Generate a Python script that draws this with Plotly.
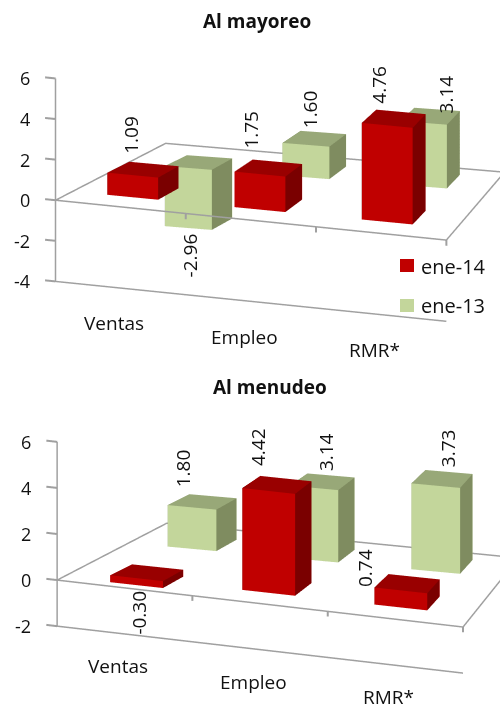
import plotly.graph_objects as go

categories = ["Ventas", "Empleo", "RMR*"]
series_names = ["ene-14", "ene-13"]
mayoreo_ene14 = [1.09, 1.75, 4.76]
mayoreo_ene13 = [-2.96, 1.60, 3.14]
menudeo_ene14 = [-0.30, 4.42, 0.74]
menudeo_ene13 = [1.80, 3.14, 3.73]

RED = ("#c00000", "#990000", "#7a0000")
GREEN = ("#c3d69b", "#98a878", "#7f8c60")
GRID = "#a0a0a0"
TXT = "#111111"
FONT = "Open Sans"
BW, BD = 0.40, 0.38
PAD = 0.4
# small convergence of the floor towards the back right, as in the original's perspective
WARP_X, WARP_M, WARP_Y = 0.10, 0.039, 0.06
BACK_RIGHT = (2.53, 2.17)


def warp(x, y):
    return x * (1 - WARP_X * y) + WARP_M * y, y * (1 + WARP_Y * x)


def box_mesh(values, row, colors):
    xs, ys, zs, i, j, k, fc = [], [], [], [], [], [], []
    for c, v in enumerate(values):
        x0, x1 = c + 0.46 - BW / 2, c + 0.46 + BW / 2
        y0, y1 = row + 0.5 - BD / 2, row + 0.5 + BD / 2
        z0, z1 = 0, v
        n = len(xs)
        for px, py, pz in [(x0, y0, z0), (x1, y0, z0), (x1, y1, z0), (x0, y1, z0),
                           (x0, y0, z1), (x1, y0, z1), (x1, y1, z1), (x0, y1, z1)]:
            wx, wy = warp(px, py)
            xs.append(wx); ys.append(wy); zs.append(pz)
        faces = [((0, 1, 5), 0), ((0, 5, 4), 0),   # front
                 ((1, 2, 6), 2), ((1, 6, 5), 2),   # right
                 ((3, 0, 4), 2), ((3, 4, 7), 2),   # left
                 ((2, 3, 7), 0), ((2, 7, 6), 0),   # back
                 ((4, 5, 6), 1), ((4, 6, 7), 1),   # top
                 ((0, 1, 2), 1), ((0, 2, 3), 1)]   # bottom
        for (a, b, d), col in faces:
            i.append(n + a); j.append(n + b); k.append(n + d); fc.append(colors[col])
    return xs, ys, zs, i, j, k, fc


def add_line(fig, scene, x, y, z, w=3):
    fig.add_trace(go.Scatter3d(x=x, y=y, z=z, mode="lines", scene=scene, hoverinfo="skip",
                               showlegend=False, line=dict(color=GRID, width=w)))


def add_panel(fig, scene, s14, s13, zmin, zmax, ticks):
    for vals, row, cols in ((s14, 0, RED), (s13, 1, GREEN)):
        xs, ys, zs, i, j, k, fc = box_mesh(vals, row, cols)
        fig.add_trace(go.Mesh3d(x=xs, y=ys, z=zs, i=i, j=j, k=k, facecolor=fc, scene=scene,
                                flatshading=True, hoverinfo="skip", showscale=False,
                                lighting=dict(ambient=1, diffuse=0, specular=0, roughness=1, fresnel=0)))
    n = len(categories)
    bx, by = BACK_RIGHT
    add_line(fig, scene, [0, n, bx, 0, 0], [0, 0, by, 2, 0], [0] * 5)
    add_line(fig, scene, [0, n], [0, 0], [zmin, zmin])
    add_line(fig, scene, [0, 0], [0, 0], [zmin, zmax])
    for t in ticks:
        add_line(fig, scene, [-0.08, 0], [0, 0], [t, t], 4)
    for c in range(1, n + 1):
        add_line(fig, scene, [c, c], [0, 0], [0, -0.28 * (zmax - zmin) / 10], 4)


def scene_layout(zmin, zmax, aspect, domain_y, center, view, s14, s13, offs, cat_shift):
    anns = []
    for t in range(zmin, zmax + 1, 2):
        anns.append(dict(x=0, y=0, z=t, text=str(t), showarrow=False, xanchor="right",
                         xshift=-24, font=dict(family=FONT, size=18, color=TXT)))
    for c, name in enumerate(categories):
        anns.append(dict(x=c + 0.45, y=0, z=zmin, text=name, showarrow=False, yshift=-cat_shift,
                         font=dict(family=FONT, size=19, color=TXT)))
    idx = 0
    for row, vals in ((0, s14), (1, s13)):
        for c, v in enumerate(vals):
            dx, dy = offs[idx]
            idx += 1
            ax, ay = warp(c + 0.46, row + 0.5)
            anns.append(dict(x=ax, y=ay, z=v, text=f"{v:.2f}", textangle=-90,
                             showarrow=False, xshift=dx, yshift=dy,
                             font=dict(family=FONT, size=19, color=TXT)))
    axis = dict(visible=False, showspikes=False)
    sx = (3 + 2 * PAD) / 3
    sy = (2 + 2 * PAD) / 2
    sz = (zmax - zmin + 2 * PAD) / (zmax - zmin)
    return dict(
        domain=dict(x=[0, 1], y=domain_y),
        xaxis=dict(axis, range=[-PAD, 3 + PAD]),
        yaxis=dict(axis, range=[-PAD, 2 + PAD]),
        zaxis=dict(axis, range=[zmin - PAD, zmax + PAD]),
        aspectmode="manual",
        aspectratio=dict(x=aspect["x"] * sx, y=aspect["y"] * sy, z=aspect["z"] * sz),
        camera=dict(eye=dict(x=center["x"] + view[0] * 2, y=center["y"] + view[1] * 2,
                             z=center["z"] + view[2] * 2),
                    center=center, up=dict(x=0, y=0, z=1),
                    projection=dict(type="orthographic")),
        annotations=anns,
    )


fig = go.Figure()
add_panel(fig, "scene", mayoreo_ene14, mayoreo_ene13, -4, 6, [-4, -2, 0, 2, 4, 6])
add_panel(fig, "scene2", menudeo_ene14, menudeo_ene13, -2, 6, [-2, 0, 2, 4, 6])

off_top = [(-13, 35), (-18, 38), (-15, 34), (-8, -33), (-5, 29), (16, 22)]
off_bot = [(-9, -33), (-19, 38), (-43, 16), (-20, 33), (3, 30), (5, 31)]

fig.update_layout(
    width=500, height=704, margin=dict(l=0, r=0, t=0, b=0),
    paper_bgcolor="white", showlegend=False,
    scene=scene_layout(-4, 6, dict(x=2.43, y=1.54, z=1.185), [0.5, 1.0],
                       dict(x=-0.348, y=0, z=-0.06), (0.396, -0.891, 0.23),
                       mayoreo_ene14, mayoreo_ene13, off_top, 36),
    scene2=scene_layout(-2, 6, dict(x=2.55, y=1.46, z=1.08), [0.0, 0.5],
                        dict(x=-0.408, y=0, z=-0.038), (0.414, -0.877, 0.245),
                        menudeo_ene14, menudeo_ene13, off_bot, 33),
    shapes=[
        dict(type="rect", xref="paper", yref="paper", x0=400 / 500, x1=414 / 500,
             y0=1 - 272 / 704, y1=1 - 259 / 704, fillcolor=RED[0], line_width=0),
        dict(type="rect", xref="paper", yref="paper", x0=400 / 500, x1=414 / 500,
             y0=1 - 312 / 704, y1=1 - 299 / 704, fillcolor=GREEN[0], line_width=0),
    ],
    annotations=[
        dict(text="<b>Al mayoreo</b>", x=257 / 500, y=1 - 21 / 704, xref="paper", yref="paper",
             yanchor="middle", showarrow=False, font=dict(family=FONT, size=19, color=TXT)),
        dict(text="<b>Al menudeo</b>", x=270 / 500, y=1 - 387 / 704, xref="paper", yref="paper",
             yanchor="middle", showarrow=False, font=dict(family=FONT, size=19, color=TXT)),
        dict(text=series_names[0], x=419 / 500, y=1 - 266 / 704, xref="paper", yref="paper",
             xanchor="left", yanchor="middle", showarrow=False, font=dict(family=FONT, size=20, color=TXT)),
        dict(text=series_names[1], x=419 / 500, y=1 - 306 / 704, xref="paper", yref="paper",
             xanchor="left", yanchor="middle", showarrow=False, font=dict(family=FONT, size=20, color=TXT)),
    ],
)
fig.write_html("out.html", post_script="document.body.style.margin='0';",
               config=dict(displayModeBar=False))
